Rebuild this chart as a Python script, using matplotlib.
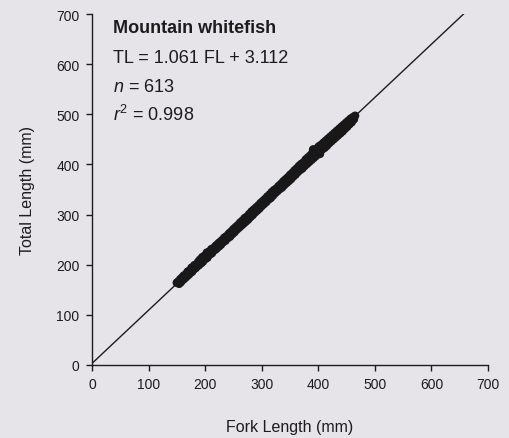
import numpy as np
import matplotlib.pyplot as plt

plt.rcParams['font.family'] = ['Liberation Sans', 'DejaVu Sans']
plt.rcParams['mathtext.fontset'] = 'custom'
plt.rcParams['mathtext.rm'] = 'Liberation Sans'
plt.rcParams['mathtext.it'] = 'Liberation Sans:italic'

# fork length / total length pairs (mm)
fork_length = [150, 152, 154, 156, 157, 159, 161, 162, 164, 166, 167, 169, 171, 172, 174, 176,
               177, 179, 181, 183, 184, 186, 188, 189, 191, 193, 195, 196, 198, 199, 201, 203,
               204, 206, 207, 209, 211, 212, 214, 216, 218, 219, 221, 223, 225, 226, 228, 230,
               232, 234, 236, 238, 240, 242, 244, 246, 248, 250, 252, 254, 256, 258, 260, 262,
               264, 266, 268, 270, 272, 274, 276, 278, 280, 282, 284, 286, 288, 290, 292, 294,
               296, 298, 300, 302, 304, 306, 308, 310, 312, 314, 316, 318, 320, 322, 324, 326,
               328, 330, 332, 334, 336, 338, 340, 342, 344, 346, 348, 350, 352, 354, 356, 358,
               360, 362, 364, 366, 368, 370, 372, 374, 376, 378, 380, 382, 384, 386, 388, 390,
               392, 391, 395, 396, 398, 403, 401, 403, 405, 407, 409, 411, 413, 415, 417, 419,
               421, 423, 425, 427, 429, 431, 433, 435, 437, 439, 441, 443, 445, 447, 449, 451,
               453, 455, 457, 459, 461, 463, 465]
total_length = [164, 166, 162, 171, 165, 174, 170, 178, 173, 181, 176, 186, 180, 188, 184, 194,
                186, 190, 199, 193, 200, 197, 206, 199, 210, 203, 215, 206, 210, 218, 212, 224,
                214, 219, 226, 221, 231, 223, 228, 234, 230, 238, 233, 242, 237, 245, 240, 249,
                245, 254, 248, 257, 253, 262, 256, 266, 261, 271, 265, 275, 270, 279, 274, 284,
                278, 288, 282, 293, 286, 296, 290, 301, 295, 306, 299, 310, 304, 314, 308, 318,
                312, 323, 317, 327, 321, 331, 325, 336, 330, 340, 333, 345, 338, 349, 343, 352,
                347, 357, 351, 361, 354, 366, 359, 370, 363, 374, 367, 379, 371, 383, 376, 388,
                380, 392, 385, 397, 389, 401, 392, 404, 397, 410, 401, 414, 405, 418, 409, 424,
                413, 430, 428, 417, 432, 421, 436, 425, 439, 430, 443, 433, 447, 437, 451, 442,
                455, 446, 459, 450, 463, 454, 467, 458, 471, 462, 475, 466, 479, 471, 483, 475,
                487, 480, 491, 484, 494, 490, 497]

slope = 1.061
intercept = 3.112
x_ticks = [0, 100, 200, 300, 400, 500, 600, 700]
y_ticks = [0, 100, 200, 300, 400, 500, 600, 700]

bg = '#e6e4e9'
ink = '#1c1c1c'
fig = plt.figure(figsize=(5.09, 4.39), dpi=100, facecolor=bg)
ax = fig.add_axes([0.1807, 0.1663, 0.778, 0.7995], facecolor=bg)

ax.scatter(fork_length, total_length, s=38, color='#181818', edgecolors='none', zorder=3)

# regression line up to the top of the y range
x_end = (700 - intercept) / slope
xl = np.array([0, x_end])
ax.plot(xl, slope * xl + intercept, color=ink, lw=1.0, zorder=2)

ax.set_xlim(0, 700)
ax.set_ylim(0, 700)
ax.set_xticks(x_ticks)
ax.set_yticks(y_ticks)
ax.spines['top'].set_visible(False)
ax.spines['right'].set_visible(False)
for s in ['left', 'bottom']:
    ax.spines[s].set_linewidth(1.0)
    ax.spines[s].set_color(ink)
ax.tick_params(direction='out', length=4, width=1, color=ink,
               labelsize=10, labelcolor=ink, pad=5)

ax.set_xlabel('Fork Length (mm)', fontsize=11.5, color=ink, labelpad=20)
ax.set_ylabel('Total Length (mm)', fontsize=11.5, color=ink, labelpad=15)

tx = 0.053
fs = 13
ax.text(tx, 0.949, 'Mountain whitefish', transform=ax.transAxes, fontsize=fs,
        fontweight='bold', color=ink, va='baseline')
ax.text(tx, 0.864, 'TL = %.3f FL + %.3f' % (slope, intercept), transform=ax.transAxes,
        fontsize=fs, color=ink, va='baseline')
ax.text(tx, 0.781, '$n$ = 613', transform=ax.transAxes, fontsize=fs,
        color=ink, va='baseline')
ax.text(tx, 0.697, '$r^2$ = 0.998', transform=ax.transAxes, fontsize=fs,
        color=ink, va='baseline')

fig.savefig('out.png', dpi=100, facecolor=bg)
